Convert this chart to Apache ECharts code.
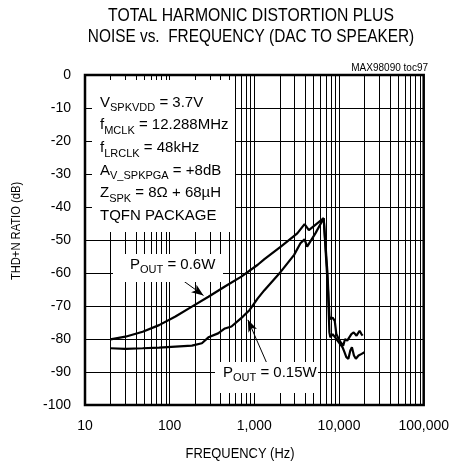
<!DOCTYPE html>
<html><head><meta charset="utf-8">
<script src="https://cdn.jsdelivr.net/npm/echarts@6/dist/echarts.min.js"></script>
<style>html,body{margin:0;padding:0;background:#fff}#c{width:452px;height:465px}</style>
</head><body><div id="c"></div>
<script>
// ---- data ----
const freq06 = [20,30,48,75,117,183,287,449,702,1097,1315,2055,3215,3917,4405,6590,7300,7700,7900,8400,8900,9300,9900,10500,11200,11800,12500,13000,14000,14900,16100,17500,18400,19000];
const thd06  = [-80.1,-79.3,-77.8,-75.8,-73.2,-70.2,-67.2,-64.1,-61.1,-57.5,-55.8,-52.0,-48.0,-45.2,-47.0,-43.4,-60,-73,-74,-73.5,-74.5,-78.5,-80,-81,-82,-80,-80.5,-80,-78.5,-78,-79,-77.5,-78.5,-79];
const freq015 = [20,30,48,75,117,183,240,287,373,449,537,733,880,1097,1315,2055,2950,3500,3917,4200,5260,6590,7400,7700,7900,8400,9000,9600,10300,11000,11600,12200,12900,13600,14200,15000,15800,17000,18500,20000];
const thd015  = [-82.8,-83,-82.8,-82.6,-82.3,-82,-81.3,-79.5,-78.3,-76.8,-76.2,-73.2,-71.2,-67.7,-65.2,-59.6,-54.5,-51.0,-49.8,-52,-48,-43.4,-65,-78,-79.5,-78.5,-79.5,-80.5,-81.5,-82.5,-84,-85.5,-86,-83.5,-82.5,-85,-86,-85,-84.5,-84];
const minorFreqs = [20,30,40,50,60,70,80,90,200,300,400,500,600,700,800,900,2000,3000,4000,5000,6000,7000,8000,9000,20000,30000,40000,50000,60000,70000,80000,90000];
const titleLines = ['TOTAL HARMONIC DISTORTION PLUS','NOISE vs.  FREQUENCY (DAC TO SPEAKER)'];
const xName = 'FREQUENCY (Hz)';
const yName = 'THD+N RATIO (dB)';
const arrow06 = [[140,-62.1],[251,-66.8]];
const arrow015 = [[1436,-87.9],[839,-74.2]];

const FONT = 'Liberation Sans, Arial, sans-serif';
const chart = echarts.init(document.getElementById('c'), null, {renderer:'canvas'});
const fmt = v => Number(v).toLocaleString('en-US');
const toPairs = (xs, ys) => xs.map((x,i)=>[x, ys[i]]);
const subRich = (main, sub) => ({
  m:{fontFamily:FONT, fontSize:main, lineHeight:22.7, fill:'#000'},
  s:{fontFamily:FONT, fontSize:sub, lineHeight:11, verticalAlign:'bottom', fill:'#000'}
});

chart.setOption({
  animation:false,
  backgroundColor:'#fff',
  grid:{left:85, right:24, top:75, bottom:60, show:true, borderColor:'#000', borderWidth:2.5, backgroundColor:'transparent'},
  xAxis:{
    type:'log', logBase:10, min:10, max:100000,
    axisLine:{show:false}, axisTick:{show:false},
    axisLabel:{formatter:fmt, fontFamily:FONT, fontSize:14, color:'#000', margin:14},
    splitLine:{show:true, lineStyle:{color:'#000', width:1}}
  },
  yAxis:{
    type:'value', min:-100, max:0, interval:10,
    axisLine:{show:false}, axisTick:{show:false},
    axisLabel:{fontFamily:FONT, fontSize:14, color:'#000', margin:14},
    splitLine:{show:true, lineStyle:{color:'#000', width:1}}
  },
  series:[
    {type:'line', data:[], z:1, silent:true,
     markLine:{silent:true, symbol:['none','none'], label:{show:false},
       lineStyle:{color:'#000', width:1, type:'solid'},
       data: minorFreqs.map(f=>({xAxis:f}))}},
    {type:'line', name:'0.6W', data:toPairs(freq06, thd06), showSymbol:false, z:3,
     lineStyle:{color:'#000', width:2.2},
     markLine:{silent:true, symbol:['none','arrow'], symbolSize:[7,12], label:{show:false},
       lineStyle:{color:'#000', width:1, type:'solid'},
       data:[[{coord:arrow06[0]},{coord:arrow06[1]}]]}},
    {type:'line', name:'0.15W', data:toPairs(freq015, thd015), showSymbol:false, z:3,
     lineStyle:{color:'#000', width:2.2},
     markLine:{silent:true, symbol:['none','arrow'], symbolSize:[7,12], label:{show:false},
       lineStyle:{color:'#000', width:1, type:'solid'},
       data:[[{coord:arrow015[0]},{coord:arrow015[1]}]]}}
  ],
  graphic:[
    {type:'text', z:51, x:251, y:16, scaleX:0.875, style:{text:titleLines[0], align:'center', verticalAlign:'middle', fontFamily:FONT, fontSize:18, fill:'#000'}},
    {type:'text', z:51, x:251, y:37, scaleX:0.855, style:{text:titleLines[1], align:'center', verticalAlign:'middle', fontFamily:FONT, fontSize:18, fill:'#000'}},
    {type:'text', z:51, x:240, y:454, scaleX:0.86, style:{text:xName, align:'center', verticalAlign:'middle', fontFamily:FONT, fontSize:15, fill:'#000'}},
    {type:'text', z:51, x:16, y:231, rotation:Math.PI/2, scaleX:0.86, style:{text:yName, align:'center', verticalAlign:'middle', fontFamily:FONT, fontSize:13, fill:'#000'}},
    {type:'rect', z:50, shape:{x:92, y:80, width:143, height:152}, style:{fill:'#fff'}},
    {type:'text', z:51, left:100, top:95, style:{
      fontFamily:FONT, fontSize:15, fill:'#000',
      text:[
        '{m|V}{s|SPKVDD}{m| = 3.7V}',
        '{m|f}{s|MCLK}{m| = 12.288MHz}',
        '{m|f}{s|LRCLK}{m| = 48kHz}',
        '{m|A}{s|V_SPKPGA}{m| = +8dB}',
        '{m|Z}{s|SPK}{m| = 8Ω + 68µH}',
        '{m|TQFN PACKAGE}'].join('\n'),
      rich: subRich(15, 11)}},
    {type:'rect', z:50, shape:{x:113, y:254, width:110, height:28}, style:{fill:'#fff'}},
    {type:'text', z:51, left:130, top:257, style:{
      text:'{m|P}{s|OUT}{m| = 0.6W}', rich: subRich(15, 11)}},
    {type:'rect', z:50, shape:{x:215, y:362, width:103, height:31}, style:{fill:'#fff'}},
    {type:'text', z:51, left:223, top:365, style:{
      text:'{m|P}{s|OUT}{m| = 0.15W}', rich: subRich(15, 11)}},
    {type:'text', z:51, right:24, top:63, style:{text:'MAX98090 toc97', fontFamily:FONT, fontSize:10, fill:'#000'}}
  ]
});
</script></body></html>
